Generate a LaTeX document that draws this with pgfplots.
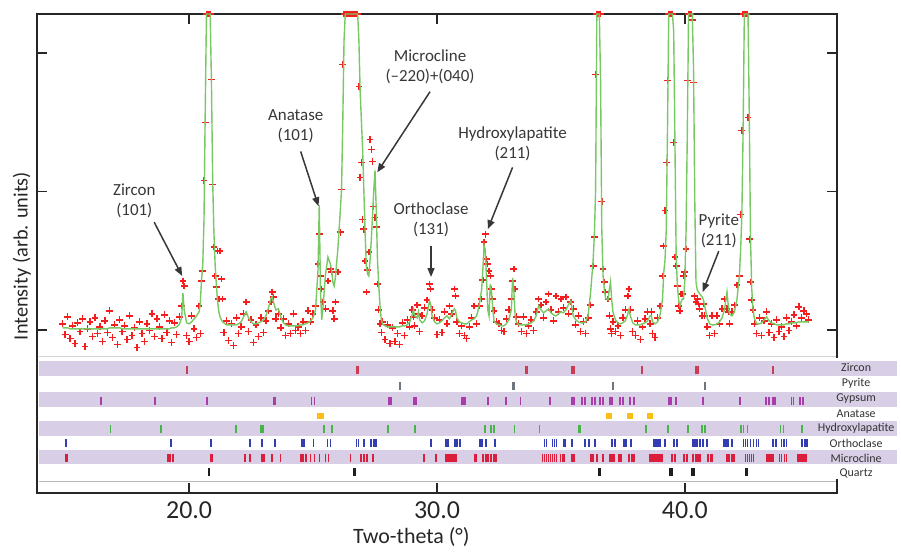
\documentclass[border=0pt]{standalone}
\usepackage{fontspec}
\setmainfont{Carlito}
\usepackage{pgfplots}
\usepackage{pgfplotstable}
\pgfplotsset{compat=1.18}
\usetikzlibrary{arrows.meta}

\definecolor{fitgreen}{RGB}{120,200,100}
\definecolor{obsred}{RGB}{245,30,30}
\definecolor{bandcol}{RGB}{216,207,230}
\definecolor{annot}{RGB}{55,55,55}
\definecolor{cZr}{RGB}{205,60,85}
\definecolor{cPy}{RGB}{110,118,128}
\definecolor{cGy}{RGB}{170,60,170}
\definecolor{cAn}{RGB}{250,190,20}
\definecolor{cHa}{RGB}{70,180,70}
\definecolor{cOr}{RGB}{50,60,180}
\definecolor{cMi}{RGB}{220,30,60}
\definecolor{cQz}{RGB}{30,30,30}

% two-theta, fitted profile, observed counts (baseline = 0)
\pgfplotstableread{
x fit obs
14.9 2 6
15.0 2 -5
15.1 2 13
15.2 1 -9
15.3 1 4
15.4 1 -14
15.5 1 7
15.6 1 -2
15.7 1 11
15.8 1 -17
15.9 1 1
16.0 1 8
16.1 1 -7
16.2 1 12
16.3 1 -4
16.4 1 3
16.5 1 -12
16.6 1 9
16.7 1 -3
16.8 2 19
16.9 2 -8
17.0 2 5
17.1 2 -15
17.2 2 10
17.3 1 -2
17.4 1 4
17.5 1 -10
17.6 1 14
17.7 1 -6
17.8 1 2
17.9 1 -18
18.0 1 8
18.1 1 -4
18.2 1 -12
18.3 1 6
18.4 1 -1
18.5 1 16
18.6 1 -7
18.7 1 11
18.8 1 3
18.9 1 -9
19.0 1 15
19.1 1 -3
19.2 1 9
19.3 2 -13
19.4 2 7
19.5 3 -5
19.6 5 13
19.7 12 24
19.75 37 49
19.8 20 44
19.9 7 -6
20.0 6 -12
20.1 8 14
20.2 11 1
20.3 14 -8
20.4 18 24
20.45 26 -4
20.5 50 49
20.55 65 59
20.6 110 150
20.65 220 208
20.7 317 317
20.75 317 317
20.8 317 317
20.85 317 317
20.9 250 251
20.95 150 146
21.0 98 83
21.05 65 54
21.1 45 43
21.15 28 79
21.2 18 31
21.25 13 79
21.3 10 51
21.35 8 31
21.4 7 -3
21.5 5 9
21.6 5 -11
21.7 5 6
21.8 5 -16
21.9 5 12
22.0 6 -4
22.1 8 3
22.2 13 16
22.3 18 28
22.4 12 -2
22.5 8 10
22.6 6 -13
22.7 6 5
22.8 7 -7
22.9 8 12
23.0 10 -3
23.1 14 9
23.2 22 19
23.3 31 28
23.35 33 38
23.4 28 33
23.5 20 11
23.6 21 16
23.7 13 2
23.8 7 11
23.9 5 -6
24.0 4 6
24.1 4 -4
24.2 4 16
24.3 4 -1
24.4 4 3
24.5 5 -4
24.6 5 8
24.7 6 -1
24.8 7 19
24.9 9 8
25.0 12 16
25.1 20 24
25.2 60 66
25.25 125 96
25.3 40 54
25.35 10 41
25.4 22 28
25.5 55 21
25.6 73 49
25.7 66 61
25.75 60 58
25.8 48 19
25.85 44 11
25.9 52 28
26.0 81 58
26.1 120 98
26.15 141 141
26.2 210 266
26.25 290 317
26.3 317 317
26.35 317 317
26.4 317 317
26.45 317 317
26.5 317 317
26.55 317 317
26.6 317 317
26.65 317 317
26.7 317 317
26.75 317 317
26.8 317 317
26.85 290 244
26.9 240 153
26.95 210 168
27.0 181 111
27.05 140 101
27.1 98 69
27.15 64 38
27.2 56 60
27.25 54 78
27.3 70 191
27.35 90 181
27.4 115 169
27.45 140 124
27.5 160 113
27.55 120 103
27.6 70 46
27.65 45 20
27.7 25 6
27.75 11 -3
27.8 6 8
27.9 4 -10
28.0 3 5
28.1 3 -14
28.2 3 2
28.3 3 -12
28.4 3 -4
28.5 3 -15
28.6 4 7
28.7 4 -6
28.8 5 10
28.9 8 3
29.0 15 20
29.05 20 13
29.1 14 4
29.2 12 25
29.25 18 16
29.3 10 -2
29.4 7 14
29.5 9 22
29.6 16 30
29.7 29 46
29.75 25 41
29.8 14 20
29.9 8 12
30.0 6 -5
30.1 7 10
30.2 9 -3
30.3 12 18
30.4 14 6
30.5 11 24
30.6 16 16
30.7 21 41
30.75 19 34
30.8 12 8
30.9 8 -4
31.0 7 4
31.1 6 -6
31.2 6 -9
31.3 8 3
31.4 10 12
31.5 11 24
31.6 14 6
31.7 24 24
31.8 40 31
31.85 60 50
31.9 85 88
31.95 80 96
32.0 50 71
32.05 20 66
32.1 14 59
32.15 46 54
32.2 38 41
32.25 22 31
32.3 9 19
32.4 6 8
32.5 5 6
32.6 4 -1
32.7 4 -2
32.8 6 11
32.9 10 20
33.0 20 31
33.05 52 49
33.1 40 61
33.15 15 41
33.2 8 13
33.3 5 6
33.4 5 -2
33.5 5 13
33.6 5 -4
33.7 6 4
33.8 7 10
33.9 9 -1
34.0 14 18
34.1 24 31
34.2 20 25
34.3 17 12
34.4 19 28
34.5 21 36
34.6 17 20
34.7 15 9
34.8 14 34
34.9 16 18
35.0 18 31
35.1 17 22
35.2 20 33
35.3 25 16
35.4 29 28
35.5 14 21
35.6 10 5
35.7 8 14
35.8 7 -2
35.9 7 8
36.0 8 -4
36.1 15 12
36.2 38 25
36.3 70 64
36.35 95 93
36.4 140 256
36.45 317 317
36.5 317 317
36.55 317 317
36.6 250 317
36.65 100 129
36.7 55 61
36.75 41 48
36.8 32 38
36.9 30 31
36.95 40 14
37.0 48 1
37.05 30 -4
37.1 18 8
37.2 10 -2
37.3 7 4
37.4 6 -6
37.5 7 12
37.6 9 20
37.7 16 34
37.75 21 41
37.8 14 20
37.9 7 -2
38.0 5 -6
38.1 5 9
38.2 5 -10
38.3 6 3
38.4 7 11
38.5 9 18
38.6 14 6
38.65 14 18
38.7 8 -4
38.8 6 -8
38.9 8 12
39.0 15 24
39.1 31 54
39.15 58 84
39.2 70 120
39.25 100 168
39.3 200 250
39.35 317 317
39.4 317 317
39.45 317 317
39.5 317 317
39.55 300 188
39.6 188 73
39.65 74 64
39.7 44 44
39.75 30 24
39.8 24 19
39.85 28 36
39.9 31 36
39.95 31 54
40.0 50 58
40.05 100 81
40.1 198 250
40.15 317 317
40.2 317 317
40.25 317 317
40.3 317 311
40.35 264 248
40.4 131 34
40.45 48 28
40.5 40 31
40.55 38 26
40.6 36 21
40.7 33 14
40.75 30 26
40.8 24 14
40.9 12 3
41.0 6 -6
41.1 5 14
41.2 5 -4
41.3 6 14
41.4 8 6
41.5 12 21
41.6 20 31
41.7 38 21
41.75 25 18
41.8 16 6
41.9 14 18
42.0 18 25
42.1 30 45
42.2 54 54
42.25 80 116
42.3 114 200
42.35 198 317
42.4 317 317
42.45 317 317
42.5 317 317
42.55 317 213
42.6 214 91
42.65 91 48
42.7 41 30
42.75 21 20
42.8 12 6
42.9 6 -4
43.0 6 12
43.1 7 -6
43.2 10 9
43.3 13 18
43.4 9 -3
43.5 7 6
43.6 6 -8
43.7 5 10
43.8 5 -2
43.9 5 3
44.0 5 -7
44.1 6 12
44.2 6 -1
44.3 7 8
44.4 7 15
44.5 7 4
44.6 8 23
44.7 8 12
44.8 8 19
44.9 8 16
45.0 8 10
}\xrd

\begin{document}
\begin{tikzpicture}
\begin{axis}[
    scale only axis, width=401.5pt, height=240.5pt,
    xmin=13.86, xmax=46.14, ymin=-164, ymax=317,
    clip mode=individual,
    axis line style={line width=1pt, black!85},
    xtick={20,30,40}, xticklabels={20.0,30.0,40.0},
    ytick={0,139,278}, yticklabels={},
    tick align=inside, major tick length=5pt,
    tick style={line width=0.8pt, black!85},
    xticklabel style={font=\fontsize{13}{15}\selectfont, black!85, anchor=center, yshift=-8.5pt},
    xlabel={Two-theta (°)},
    xlabel style={font=\fontsize{11}{13}\selectfont, black!85, at={(axis description cs:0.468,-0.091)}, anchor=center},
    ylabel={Intensity (arb. units)},
    ylabel style={font=\fontsize{10.2}{12}\selectfont, black!85, at={(axis description cs:-0.019,0.495)}, anchor=center},
]
% page extent
\path (axis cs:12.37,331) rectangle (axis cs:48.55,-219);

\addplot[only marks, mark=+, mark size=1.7pt, obsred, mark options={line width=0.7pt}] table[x=x, y=obs] {\xrd};
\addplot[fitgreen, line width=0.7pt, mark=none] table[x=x, y=fit] {\xrd};

% phase panel
\fill[white] (axis cs:13.94,-28) rectangle (axis cs:48.55,-150);
\draw[gray!35, line width=0.5pt] (axis cs:13.94,-27) -- (axis cs:46.1,-27);
\fill[bandcol] (axis cs:13.94,-31) rectangle (axis cs:48.55,-46);
\fill[bandcol] (axis cs:13.94,-62) rectangle (axis cs:48.55,-77);
\fill[bandcol] (axis cs:13.94,-92) rectangle (axis cs:48.55,-107);
\fill[bandcol] (axis cs:13.94,-121) rectangle (axis cs:48.55,-135);
\draw[gray!55, line width=0.6pt] (axis cs:13.94,-152) -- (axis cs:46.1,-152);

\addplot[only marks, mark=|, mark size=2pt, cZr, mark options={line width=1.1pt}] coordinates {
(19.92,-40) (26.79,-40) (33.61,-40) (35.46,-40) (35.54,-40) (38.27,-40) (40.44,-40) (40.53,-40) (43.57,-40)};
\addplot[only marks, mark=|, mark size=2pt, cPy, mark options={line width=1.1pt}] coordinates {
(28.51,-56) (33.09,-56) (37.1,-56) (40.8,-56)};
\addplot[only marks, mark=|, mark size=2pt, cGy, mark options={line width=0.9pt}] coordinates {
(16.43,-71) (18.63,-71) (20.72,-71) (23.41,-71) (23.45,-71) (24.94,-71) (25.06,-71) (28.07,-71) (28.15,-71)
(29.08,-71) (29.16,-71) (31.0,-71) (31.08,-71) (31.14,-71) (32.05,-71) (32.77,-71) (33.37,-71) (34.54,-71)
(34.58,-71) (35.46,-71) (35.54,-71) (35.86,-71) (35.98,-71) (36.27,-71) (36.39,-71) (36.59,-71) (36.71,-71)
(36.99,-71) (37.07,-71) (37.39,-71) (37.51,-71) (37.79,-71) (37.95,-71) (39.36,-71) (39.44,-71) (39.64,-71)
(40.72,-71) (42.21,-71) (43.29,-71) (43.41,-71) (43.57,-71) (43.65,-71) (44.3,-71) (44.38,-71) (44.66,-71) (44.78,-71)};
\addplot[only marks, mark=square*, mark size=1.3pt, cAn] coordinates {
(25.3,-86) (36.95,-86) (37.79,-86) (38.59,-86)};
\addplot[only marks, mark=|, mark size=2pt, cHa, mark options={line width=0.9pt}] coordinates {
(16.83,-100) (18.88,-100) (21.89,-100) (22.89,-100) (22.97,-100) (25.44,-100) (25.78,-100) (28.03,-100)
(29.12,-100) (31.93,-100) (32.17,-100) (32.29,-100) (33.13,-100) (34.14,-100) (35.74,-100) (35.78,-100)
(38.43,-100) (39.32,-100) (40.12,-100) (40.68,-100) (40.8,-100) (42.25,-100) (42.37,-100) (42.53,-100)
(43.86,-100) (43.98,-100) (44.74,-100)};
\addplot[only marks, mark=|, mark size=2pt, cOr, mark options={line width=0.9pt}] coordinates {
(15.02,-114) (19.28,-114) (20.88,-114) (22.45,-114) (22.93,-114) (23.45,-114) (24.54,-114) (24.62,-114)
(25.02,-114) (25.58,-114) (25.7,-114) (26.75,-114) (26.83,-114) (27.07,-114) (27.35,-114) (27.47,-114)
(27.55,-114) (29.76,-114) (30.36,-114) (30.44,-114) (30.72,-114) (30.8,-114) (30.92,-114) (31.73,-114)
(31.81,-114) (31.97,-114) (32.33,-114) (34.34,-114) (34.42,-114) (34.66,-114) (34.74,-114) (34.82,-114)
(35.14,-114) (35.18,-114) (35.46,-114) (35.98,-114) (36.14,-114) (36.39,-114) (37.07,-114) (37.19,-114)
(37.55,-114) (37.63,-114) (37.83,-114) (38.76,-114) (38.84,-114) (38.92,-114) (39.0,-114) (39.2,-114)
(39.56,-114) (39.68,-114) (40.32,-114) (40.4,-114) (40.48,-114) (40.6,-114) (40.72,-114) (40.88,-114)
(41.57,-114) (41.65,-114) (41.73,-114) (41.89,-114) (42.37,-114) (42.45,-114) (42.53,-114) (42.65,-114)
(42.77,-114) (42.89,-114) (42.97,-114) (43.57,-114) (43.69,-114) (43.9,-114) (44.0,-114) (44.1,-114)
(44.74,-114) (44.84,-114) (44.94,-114)};
\addplot[only marks, mark=|, mark size=2pt, cMi, mark options={line width=0.9pt}] coordinates {
(15.02,-129) (15.06,-129) (19.16,-129) (19.24,-129) (19.36,-129) (20.88,-129) (20.92,-129) (22.25,-129)
(22.45,-129) (22.93,-129) (23.01,-129) (23.33,-129) (23.69,-129) (24.5,-129) (24.58,-129) (24.7,-129)
(24.9,-129) (25.06,-129) (25.26,-129) (25.5,-129) (25.62,-129) (26.51,-129) (26.95,-129) (27.07,-129)
(27.19,-129) (27.43,-129) (29.48,-129) (29.96,-129) (30.36,-129) (30.44,-129) (30.52,-129) (30.6,-129)
(30.68,-129) (30.76,-129) (31.53,-129) (31.57,-129) (31.85,-129) (31.97,-129) (32.05,-129) (32.17,-129)
(32.29,-129) (32.37,-129) (34.26,-129) (34.34,-129) (34.42,-129) (34.5,-129) (34.58,-129) (34.66,-129)
(34.74,-129) (34.82,-129) (34.98,-129) (35.06,-129) (35.14,-129) (35.46,-129) (35.54,-129) (36.22,-129)
(36.31,-129) (36.47,-129) (36.71,-129) (36.99,-129) (37.07,-129) (37.15,-129) (37.35,-129) (37.43,-129)
(37.75,-129) (37.87,-129) (37.95,-129) (38.59,-129) (38.67,-129) (38.75,-129) (38.83,-129) (38.91,-129)
(38.99,-129) (39.07,-129) (39.48,-129) (39.6,-129) (39.96,-129) (40.08,-129) (40.32,-129) (40.44,-129)
(40.52,-129) (40.6,-129) (40.93,-129) (41.05,-129) (41.12,-129) (41.69,-129) (41.77,-129) (41.89,-129)
(41.97,-129) (42.45,-129) (42.53,-129) (42.61,-129) (42.69,-129) (42.77,-129) (43.33,-129) (43.41,-129)
(43.49,-129) (43.57,-129) (43.82,-129) (43.9,-129) (44.02,-129) (44.1,-129) (44.58,-129) (44.66,-129)
(44.74,-129) (44.82,-129) (44.9,-129)};
\addplot[only marks, mark=|, mark size=2pt, cQz, mark options={line width=1.1pt}] coordinates {
(20.8,-143) (26.67,-143) (36.55,-143) (36.59,-143) (39.4,-143) (39.48,-143) (40.28,-143) (40.36,-143) (42.49,-143)};

% phase names
\begin{scope}[font=\fontsize{6}{7}\selectfont, text=black!80]
\node at (axis cs:46.91,-38) {Zircon};
\node at (axis cs:46.91,-54) {Pyrite};
\node at (axis cs:46.91,-69) {Gypsum};
\node at (axis cs:46.91,-84) {Anatase};
\node at (axis cs:46.91,-99) {Hydroxylapatite};
\node at (axis cs:46.91,-114) {Orthoclase};
\node at (axis cs:46.91,-129) {Microcline};
\node at (axis cs:46.91,-144) {Quartz};
\end{scope}

% peak annotations
\begin{scope}[font=\fontsize{8.5}{10}\selectfont, text=annot, align=center]
\node at (axis cs:17.79,129) {Zircon\\(101)};
\node at (axis cs:24.30,204) {Anatase\\(101)};
\node at (axis cs:29.72,264) {Microcline\\(\textendash220)+(040)};
\node at (axis cs:29.76,110) {Orthoclase\\(131)};
\node at (axis cs:33.05,187) {Hydroxylapatite\\(211)};
\node at (axis cs:41.37,99) {Pyrite\\(211)};
\end{scope}
\begin{scope}[annot, line width=0.75pt, -{Triangle[length=4.5pt,width=3.5pt]}]
\draw (axis cs:18.59,108) -- (axis cs:19.72,54);
\draw (axis cs:24.50,179) -- (axis cs:25.22,124);
\draw (axis cs:29.72,239) -- (axis cs:27.59,158);
\draw (axis cs:29.76,84) -- (axis cs:29.76,53);
\draw (axis cs:33.05,163) -- (axis cs:32.05,101);
\draw (axis cs:41.37,79) -- (axis cs:40.72,38);
\end{scope}
\end{axis}
\end{tikzpicture}
\end{document}
